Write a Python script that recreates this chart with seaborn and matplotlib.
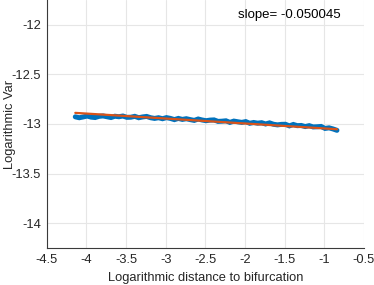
import matplotlib
matplotlib.use("Agg")
import matplotlib.pyplot as plt
import seaborn as sns
import pandas as pd

# log distance to bifurcation vs log variance
log_dist = [
    -4.14, -4.09, -4.04, -3.99, -3.94, -3.89, -3.84, -3.79, -3.74, -3.69,
    -3.64, -3.59, -3.54, -3.49, -3.44, -3.39, -3.34, -3.29, -3.24, -3.19,
    -3.14, -3.09, -3.04, -2.99, -2.94, -2.89, -2.84, -2.79, -2.74, -2.69,
    -2.64, -2.59, -2.54, -2.49, -2.44, -2.39, -2.34, -2.29, -2.24, -2.19,
    -2.14, -2.09, -2.04, -1.99, -1.94, -1.89, -1.84, -1.79, -1.74, -1.69,
    -1.64, -1.59, -1.54, -1.49, -1.44, -1.39, -1.34, -1.29, -1.24, -1.19,
    -1.14, -1.09, -1.04, -0.99, -0.94, -0.89, -0.84,
]
log_var = [
    -12.928, -12.937, -12.929, -12.920, -12.931, -12.935, -12.923, -12.919, -12.927, -12.935,
    -12.922, -12.927, -12.920, -12.933, -12.932, -12.923, -12.937, -12.929, -12.924, -12.937,
    -12.944, -12.937, -12.947, -12.936, -12.944, -12.956, -12.944, -12.954, -12.947, -12.956,
    -12.964, -12.950, -12.960, -12.967, -12.961, -12.959, -12.974, -12.972, -12.968, -12.984,
    -12.971, -12.978, -12.984, -12.976, -12.993, -12.985, -12.992, -12.987, -13.000, -12.989,
    -13.003, -13.009, -13.004, -13.003, -13.019, -13.005, -13.017, -13.015, -13.026, -13.017,
    -13.030, -13.028, -13.025, -13.045, -13.039, -13.050, -13.064,
]
fit_x = [-4.14, -0.84]
fit_y = [-12.888, -13.053]
slope = -0.050045

xticks = [-4.5, -4, -3.5, -3, -2.5, -2, -1.5, -1, -0.5]
yticks = [-12, -12.5, -13, -13.5, -14]

sns.set_style("white")
plt.rcParams["font.family"] = ["Liberation Sans", "DejaVu Sans"]
plt.rcParams["axes.unicode_minus"] = False

fig = plt.figure(figsize=(3.74, 2.85), dpi=100)
ax = fig.add_axes([0.125, 0.13, 0.848, 0.87])

df = pd.DataFrame({"x": log_dist, "y": log_var})
sns.lineplot(data=df, x="x", y="y", ax=ax, color="#0072BD", lw=3.6,
             sort=False, solid_joinstyle="miter")
sns.lineplot(x=fit_x, y=fit_y, ax=ax, color="#D95319", lw=1.6)

ax.set_xlim(-4.5, -0.5)
ax.set_ylim(-14.25, -11.75)
ax.set_xticks(xticks)
ax.set_xticklabels([f"{t:g}" for t in xticks])
ax.set_yticks(yticks)
ax.set_yticklabels([f"{t:g}" for t in yticks])
ax.grid(True, color="#e6e6e6", lw=0.8)
for s in ["top", "right"]:
    ax.spines[s].set_visible(False)
for s in ["left", "bottom"]:
    ax.spines[s].set_color("#3a3a3a")
    ax.spines[s].set_linewidth(0.8)
ax.tick_params(direction="in", length=3, width=0.8, colors="#262626", labelsize=9.3, pad=4)
ax.set_xlabel("Logarithmic distance to bifurcation", fontsize=9.3, color="#262626")
ax.set_ylabel("Logarithmic Var", fontsize=9.3, color="#262626")
ax.xaxis.set_label_coords(0.5, -0.121)
ax.xaxis.label.set_va("center")
ax.yaxis.set_label_coords(-0.116, 0.5)
ax.yaxis.label.set_va("center")
ax.text(-2.09, -11.90, f"slope= {slope:.6f}", fontsize=9.5, color="black",
        ha="left", va="center")

fig.savefig("out.png", dpi=100)
